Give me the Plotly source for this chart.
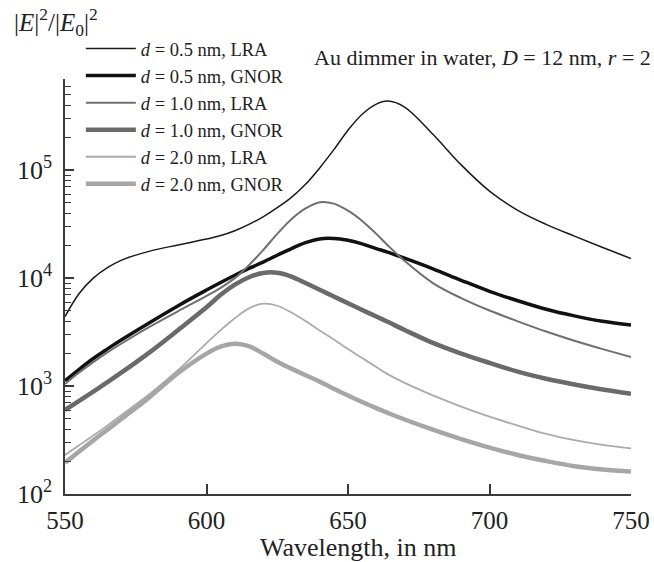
import numpy as np
import plotly.graph_objects as go

wavelength = [550, 555, 560, 565, 570, 580, 590, 600, 605, 610, 615, 620, 625, 630, 635,
              640, 645, 650, 655, 660, 664, 670, 680, 690, 700, 710, 720, 730, 740, 750]

lra_05 = [4.4e3, 7.2e3, 1.0e4, 1.25e4, 1.47e4, 1.78e4, 2.03e4, 2.3e4, 2.48e4, 2.75e4,
          3.15e4, 3.7e4, 4.5e4, 5.6e4, 7.4e4, 1.05e5, 1.55e5, 2.35e5, 3.3e5, 4.1e5,
          4.37e5, 3.85e5, 2.15e5, 1.12e5, 6.4e4, 4.25e4, 3.15e4, 2.45e4, 1.92e4, 1.52e4]
gnor_05 = [1.12e3, 1.43e3, 1.8e3, 2.21e3, 2.69e3, 3.89e3, 5.56e3, 7.76e3, 9.12e3, 1.064e4,
           1.23e4, 1.41e4, 1.63e4, 1.88e4, 2.13e4, 2.31e4, 2.33e4, 2.24e4, 2.08e4, 1.88e4,
           1.74e4, 1.53e4, 1.22e4, 9.55e3, 7.55e3, 6.17e3, 5.15e3, 4.47e3, 3.98e3, 3.67e3]
lra_10 = [1.047e3, 1.334e3, 1.667e3, 2.05e3, 2.48e3, 3.55e3, 4.95e3, 6.84e3, 8.13e3, 1.0e4,
          1.318e4, 1.82e4, 2.57e4, 3.51e4, 4.42e4, 5.05e4, 4.9e4, 4.22e4, 3.39e4, 2.57e4,
          2.02e4, 1.445e4, 9.0e3, 6.53e3, 5.01e3, 3.98e3, 3.2e3, 2.63e3, 2.2e3, 1.86e3]
gnor_10 = [6.0e2, 7.28e2, 8.87e2, 1.086e3, 1.337e3, 2.065e3, 3.31e3, 5.37e3, 7.0e3, 8.7e3,
           1.02e4, 1.117e4, 1.122e4, 1.035e4, 9.0e3, 7.8e3, 6.76e3, 5.85e3, 5.07e3, 4.41e3,
           3.94e3, 3.31e3, 2.51e3, 2.0e3, 1.64e3, 1.36e3, 1.17e3, 1.035e3, 9.3e2, 8.5e2]
lra_20 = [2.3e2, 2.83e2, 3.48e2, 4.32e2, 5.4e2, 8.5e2, 1.41e3, 2.5e3, 3.3e3, 4.25e3,
          5.25e3, 5.8e3, 5.55e3, 4.8e3, 4.0e3, 3.27e3, 2.7e3, 2.2e3, 1.82e3, 1.5e3,
          1.29e3, 1.07e3, 8.2e2, 6.45e2, 5.2e2, 4.3e2, 3.6e2, 3.15e2, 2.85e2, 2.65e2]
gnor_20 = [1.95e2, 2.48e2, 3.14e2, 3.95e2, 4.98e2, 7.94e2, 1.32e3, 2.0e3, 2.32e3, 2.47e3,
           2.34e3, 2.0e3, 1.68e3, 1.45e3, 1.26e3, 1.1e3, 9.44e2, 8.17e2, 7.11e2, 6.24e2,
           5.65e2, 4.9e2, 3.94e2, 3.22e2, 2.69e2, 2.3e2, 2.02e2, 1.81e2, 1.69e2, 1.62e2]

series_names = ["<i>d</i> = 0.5 nm, LRA", "<i>d</i> = 0.5 nm, GNOR",
                "<i>d</i> = 1.0 nm, LRA", "<i>d</i> = 1.0 nm, GNOR",
                "<i>d</i> = 2.0 nm, LRA", "<i>d</i> = 2.0 nm, GNOR"]
series_values = [lra_05, gnor_05, lra_10, gnor_10, lra_20, gnor_20]
series_colors = ["#1a1a1a", "#111111", "#6f6f6f", "#6a6a6a", "#ababab", "#a6a6a6"]
series_widths = [1.5, 3.5, 2.0, 4.5, 1.8, 4.5]

x_ticks = [550, 600, 650, 700, 750]
y_major = [1e2, 1e3, 1e4, 1e5]
y_major_text = ["10<sup>2</sup>", "10<sup>3</sup>", "10<sup>4</sup>", "10<sup>5</sup>"]
y_minor = [m * 10 ** e for e in (2, 3, 4) for m in range(2, 10)] + [m * 1e5 for m in range(2, 8)]

FONT = "Liberation Serif, Times New Roman, serif"
AXC = "#3a3a3a"
TXT = "#222"

fig = go.Figure()
for name, vals, col, w in zip(series_names, series_values, series_colors, series_widths):
    fig.add_trace(go.Scatter(x=wavelength, y=vals, mode="lines", name=name,
                             line=dict(color=col, width=w, shape="spline", smoothing=1.0)))

fig.update_layout(
    width=654, height=562,
    margin=dict(l=65, r=23, t=79, b=68),
    paper_bgcolor="white", plot_bgcolor="white",
    font=dict(family=FONT, size=26, color=TXT),
    showlegend=True,
    legend=dict(x=0.028, y=1.118, xanchor="left", yanchor="top",
                bgcolor="rgba(0,0,0,0)", font=dict(family=FONT, size=18.5, color=TXT),
                itemwidth=50, tracegroupgap=0),
    xaxis=dict(range=[550, 750], tickmode="array", tickvals=x_ticks, automargin=False,
               ticks="inside", ticklen=10, tickwidth=1.5, tickcolor=AXC,
               showline=True, linecolor=AXC, linewidth=1.5, showgrid=False, zeroline=False,
               tickfont=dict(family=FONT, size=25, color=TXT), ticklabelstandoff=3),
    yaxis=dict(type="log", range=[2, np.log10(7e5)], tickmode="array", automargin=False,
               tickvals=y_major, ticktext=y_major_text,
               ticks="inside", ticklen=9, tickwidth=1.5, tickcolor=AXC,
               showline=True, linecolor=AXC, linewidth=1.5, showgrid=False, zeroline=False,
               tickfont=dict(family=FONT, size=26, color=TXT), ticklabelstandoff=6,
               minor=dict(tickmode="array", tickvals=y_minor, ticks="inside", ticklen=6,
                          tickwidth=1.2, tickcolor=AXC, showgrid=False)),
)

fig.add_annotation(xref="paper", yref="paper", x=0.517, y=-0.13, xanchor="center", yanchor="middle",
                   text="Wavelength, in nm", showarrow=False,
                   font=dict(family=FONT, size=26, color=TXT))
fig.add_annotation(xref="paper", yref="paper", x=-0.094, y=1.137, xanchor="left", yanchor="middle",
                   text="|<i>E</i>|<sup>2</sup>/|<i>E</i><sub>0</sub>|<sup>2</sup>",
                   showarrow=False, font=dict(family=FONT, size=25, color=TXT))
fig.add_annotation(xref="paper", yref="paper", x=1.039, y=1.053, xanchor="right", yanchor="middle",
                   text="Au dimmer in water, <i>D</i> = 12 nm, <i>r</i> = 2",
                   showarrow=False, font=dict(family=FONT, size=22, color=TXT))

fig.write_html("out.html")
